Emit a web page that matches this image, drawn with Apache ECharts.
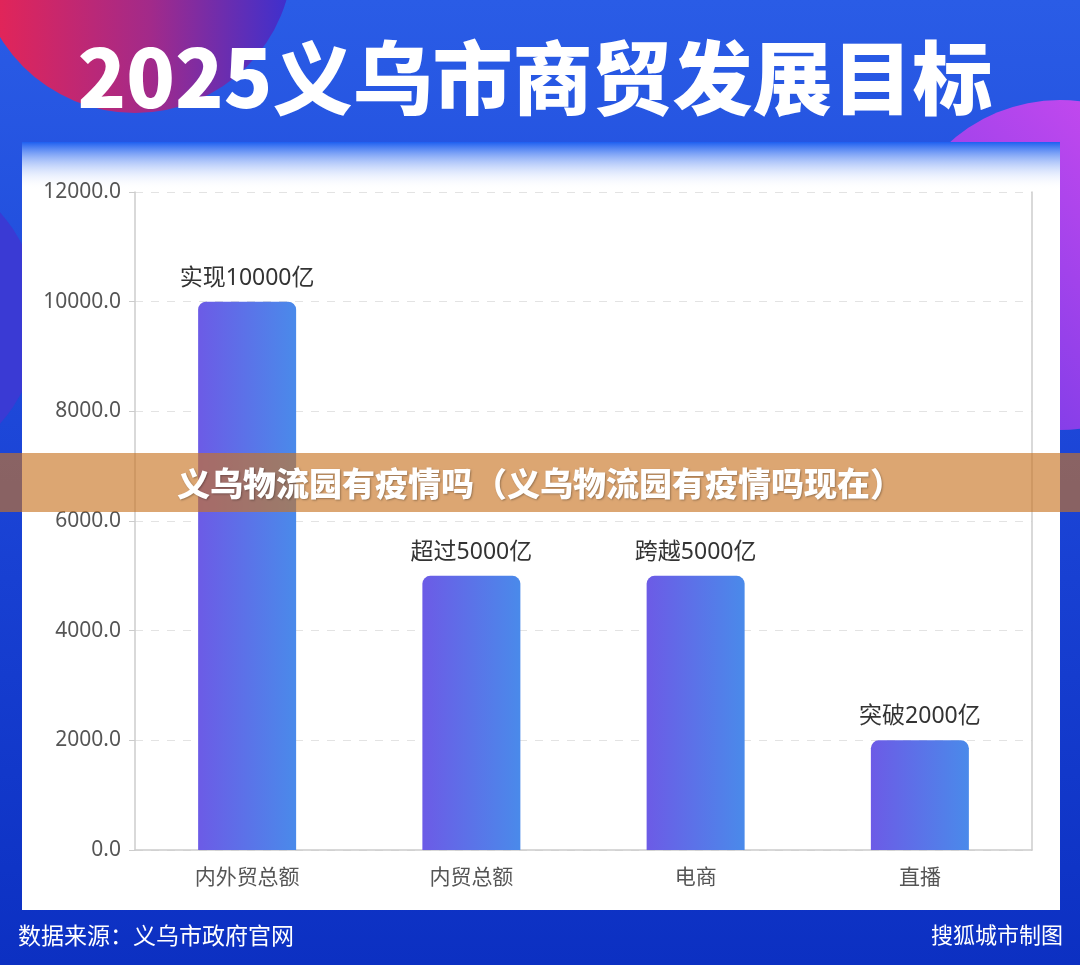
<!DOCTYPE html>
<html>
<head>
<meta charset="utf-8">
<script src="https://cdn.jsdelivr.net/npm/echarts@6/dist/echarts.min.js"></script>
<style>
  html, body { margin: 0; padding: 0; }
  #main { width: 1080px; height: 965px; }
</style>
</head>
<body>
<div id="main"></div>
<script>
// 数据
var categories = ['内外贸总额', '内贸总额', '电商', '直播'];
var values = [10000, 5000, 5000, 2000];
var barLabels = ['实现10000亿', '超过5000亿', '跨越5000亿', '突破2000亿'];
var yMin = 0, yMax = 12000, yStep = 2000;

var titleText = '2025义乌市商贸发展目标';
var bannerText = '义乌物流园有疫情吗（义乌物流园有疫情吗现在）';
var sourceText = '数据来源：义乌市政府官网';
var creditText = '搜狐城市制图';

var FONT = '"Noto Sans CJK SC", "Noto Sans", sans-serif';
var NUM_FONT = '"Noto Sans", "Noto Sans CJK SC", sans-serif';

var myChart = echarts.init(document.getElementById('main'));

var option = {
    backgroundColor: 'transparent',
    animation: false,
    graphic: [
        // 背景
        {
            type: 'rect', z: -20, silent: true,
            shape: { x: 0, y: 0, width: 1080, height: 965 },
            style: {
                fill: new echarts.graphic.LinearGradient(0, 0, 0, 1, [
                    { offset: 0, color: '#2a5ce6' },
                    { offset: 0.5, color: '#1b44d6' },
                    { offset: 1, color: '#0c30c2' }
                ])
            }
        },
        // 左上圆
        {
            type: 'circle', z: -19, silent: true,
            shape: { cx: 135, cy: -45, r: 158 },
            style: {
                fill: new echarts.graphic.LinearGradient(0, 0, 1, 0, [
                    { offset: 0, color: '#ea2452' },
                    { offset: 0.55, color: '#a22a8a' },
                    { offset: 1, color: '#3a30d0' }
                ])
            }
        },
        // 右侧圆
        {
            type: 'circle', z: -19, silent: true,
            shape: { cx: 1060, cy: 265, r: 165 },
            style: {
                fill: new echarts.graphic.LinearGradient(0, 1, 1, 0, [
                    { offset: 0, color: '#6a3ae6' },
                    { offset: 1, color: '#d94cf0' }
                ])
            }
        },
        // 左侧圆
        {
            type: 'circle', z: -19, silent: true,
            shape: { cx: -120, cy: 318, r: 160 },
            style: { fill: '#3a3ad4' }
        },
        // 白色面板
        {
            type: 'rect', z: -18, silent: true,
            shape: { x: 22, y: 142, width: 1038, height: 768 },
            style: { fill: '#ffffff' }
        },
        {
            type: 'rect', z: -17, silent: true,
            shape: { x: 22, y: 142, width: 1038, height: 48 },
            style: {
                fill: new echarts.graphic.LinearGradient(0, 0, 0, 1, [
                    { offset: 0, color: 'rgba(30,95,240,1)' },
                    { offset: 1, color: 'rgba(255,255,255,0)' }
                ])
            }
        },
        // 标题
        {
            type: 'text', z: 50, silent: true,
            x: 535, y: 78,
            style: {
                text: titleText,
                font: '900 80px ' + FONT,
                fill: '#ffffff',
                align: 'center',
                verticalAlign: 'middle'
            }
        },
        // 底部文字
        {
            type: 'text', z: 50, silent: true,
            left: 18, top: 924,
            style: { text: sourceText, font: '23px ' + FONT, fill: '#ffffff' }
        },
        {
            type: 'text', z: 50, silent: true,
            right: 17, top: 924,
            style: { text: creditText, font: '22px ' + FONT, fill: '#ffffff' }
        },
        // 横幅
        {
            type: 'rect', z: 100, silent: true,
            shape: { x: 0, y: 453, width: 1080, height: 59 },
            style: { fill: 'rgba(200,115,35,0.64)' }
        },
        {
            type: 'text', z: 101, silent: true,
            x: 540, y: 483,
            style: {
                text: bannerText,
                font: '900 33px ' + FONT,
                fill: '#ffffff',
                align: 'center',
                verticalAlign: 'middle',
                textShadowColor: 'rgba(0,0,0,0.3)',
                textShadowBlur: 2,
                textShadowOffsetX: 1,
                textShadowOffsetY: 1
            }
        }
    ],
    grid: {
        left: 135,
        right: 48,
        top: 192,
        bottom: 115
    },
    xAxis: {
        type: 'category',
        data: categories,
        axisLine: { lineStyle: { color: '#cccccc', width: 1.5 } },
        axisTick: { alignWithLabel: true, length: 6, lineStyle: { color: '#cccccc' } },
        axisLabel: { color: '#555555', fontSize: 21, fontFamily: FONT, margin: 16 }
    },
    yAxis: [
        {
            type: 'value',
            min: yMin,
            max: yMax,
            interval: yStep,
            axisLine: { show: true, lineStyle: { color: '#cccccc', width: 1.5 } },
            axisTick: { show: true, length: 6, lineStyle: { color: '#cccccc' } },
            axisLabel: {
                color: '#555555', fontSize: 21, fontFamily: NUM_FONT, margin: 14,
                formatter: function (v) { return v.toFixed(1); }
            },
            splitLine: { lineStyle: { color: '#e3e3e3', type: [8, 8] } }
        },
        {
            type: 'value',
            position: 'right',
            min: yMin,
            max: yMax,
            interval: yStep,
            axisLine: { show: true, lineStyle: { color: '#cccccc', width: 1.5 } },
            axisTick: { show: false },
            axisLabel: { show: false },
            splitLine: { show: false }
        }
    ],
    series: [
        {
            type: 'bar',
            barWidth: 98,
            data: values,
            itemStyle: {
                borderRadius: [8, 8, 0, 0],
                color: new echarts.graphic.LinearGradient(0, 0, 1, 0, [
                    { offset: 0, color: '#6c5be6' },
                    { offset: 1, color: '#4a8aea' }
                ])
            },
            label: {
                show: true,
                position: 'top',
                distance: 12,
                color: '#333333',
                fontSize: 23,
                fontFamily: NUM_FONT,
                formatter: function (p) { return barLabels[p.dataIndex]; }
            }
        }
    ]
};

myChart.setOption(option);
</script>
</body>
</html>
